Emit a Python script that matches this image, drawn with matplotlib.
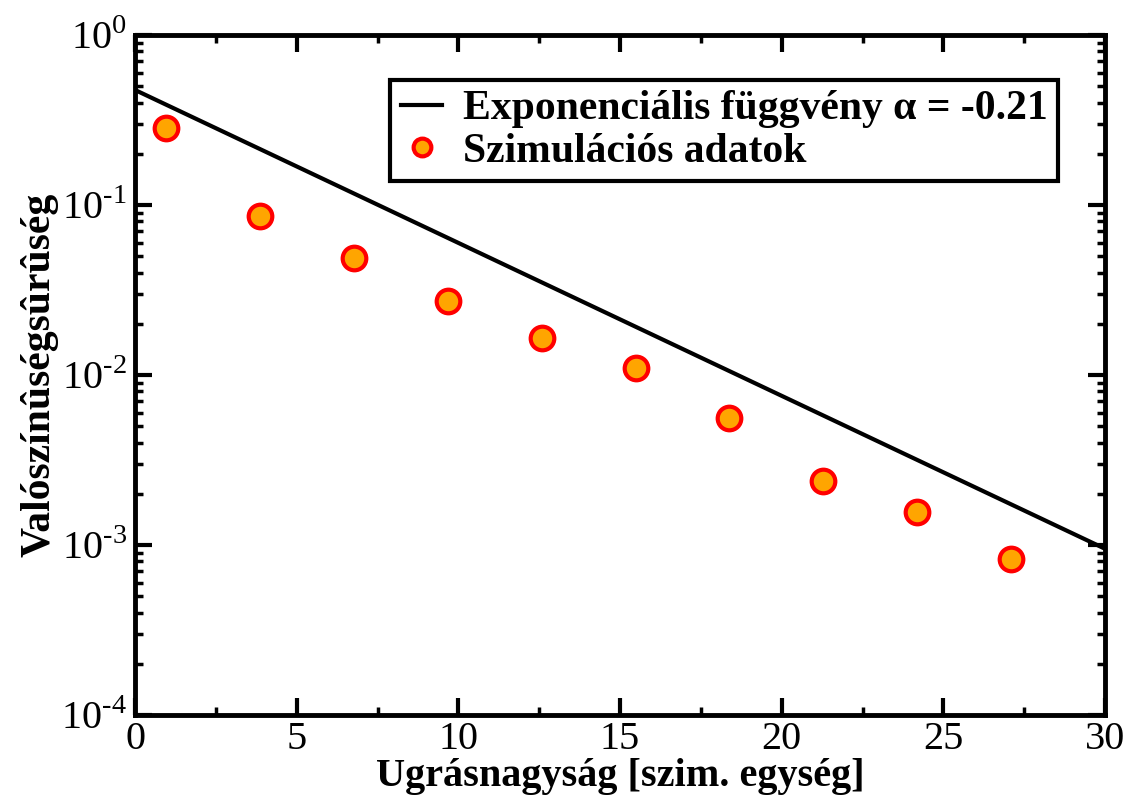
import matplotlib.pyplot as plt
from matplotlib.ticker import LogLocator, MultipleLocator, FixedLocator

# --- data ---
sim_x = [0.97, 3.88, 6.78, 9.68, 12.58, 15.48, 18.38, 21.28, 24.2, 27.1]
sim_y = [0.284, 0.086, 0.0488, 0.0272, 0.0165, 0.011, 0.0056, 0.00238, 0.00156, 0.00083]

# exponential fit, alpha = -0.21 (straight line on log scale, endpoints)
fit_x = [0, 30]
fit_y = [0.475, 9.5e-4]

x_ticks = [0, 5, 10, 15, 20, 25, 30]
y_ticks = [1e-4, 1e-3, 1e-2, 1e-1, 1e0]
y_ticklabels = [r'$10^{\text{-4}}$', r'$10^{\text{-3}}$', r'$10^{\text{-2}}$',
                r'$10^{\text{-1}}$', r'$10^{\text{0}}$']

plt.rcParams['font.family'] = ['Liberation Serif', 'DejaVu Serif']
plt.rcParams['mathtext.fontset'] = 'custom'
plt.rcParams['mathtext.rm'] = 'Liberation Serif'

fig = plt.figure(figsize=(11.27, 8.01), dpi=100)
ax = fig.add_axes([0.1198, 0.1074, 0.8607, 0.8489])

ax.plot(fit_x, fit_y, color='black', lw=3,
        label='Exponenciális függvény α = -0.21')
ax.plot(sim_x, sim_y, 'o', ms=17, mfc='#ffa500', mec='#ff0000', mew=3,
        label='Szimulációs adatok')

ax.set_yscale('log')
ax.set_xlim(0, 30)
ax.set_ylim(1e-4, 1e0)
ax.xaxis.set_major_locator(FixedLocator(x_ticks))
ax.xaxis.set_minor_locator(MultipleLocator(2.5))
ax.yaxis.set_major_locator(FixedLocator(y_ticks))
ax.yaxis.set_minor_locator(LogLocator(base=10, subs=range(2, 10), numticks=20))
ax.set_yticklabels(y_ticklabels)

for s in ax.spines.values():
    s.set_linewidth(3.5)
ax.tick_params(which='both', direction='in', top=True, right=True, labelsize=29, pad=6)
ax.tick_params(axis='x', pad=4)
ax.tick_params(which='major', length=12, width=3)
ax.tick_params(which='minor', length=6, width=2.5)

ax.set_xlabel('Ugrásnagyság [szim. egység]', fontsize=29, fontweight='bold', labelpad=0)
ax.set_ylabel('Valószínûségsûrûség', fontsize=30, fontweight='bold', labelpad=2)

leg = ax.legend(loc='upper right', bbox_to_anchor=(0.952, 0.934),
                prop={'weight': 'bold', 'size': 30}, fancybox=False, framealpha=1,
                edgecolor='black', handlelength=1.0, handletextpad=0.5,
                borderpad=0.25, labelspacing=0.1, borderaxespad=0, markerscale=0.75)
leg.get_frame().set_linewidth(3)

fig.savefig('out.png', dpi=100)
